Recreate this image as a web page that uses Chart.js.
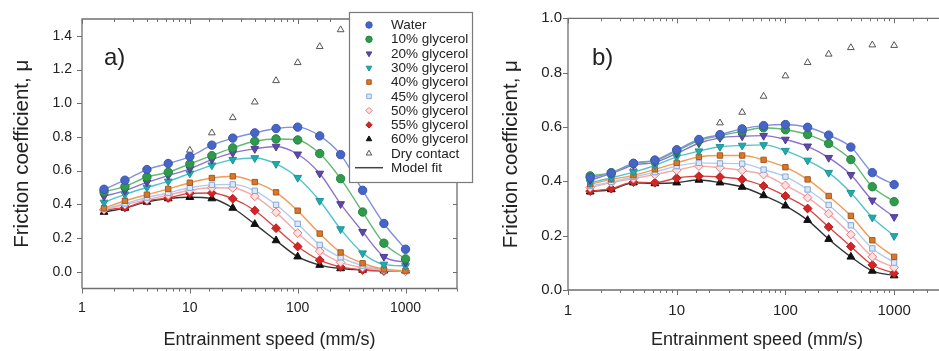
<!DOCTYPE html>
<html>
<head>
<meta charset="utf-8">
<script src="https://cdn.jsdelivr.net/npm/chart.js@4.4.0/dist/chart.umd.min.js"></script>
<style>
  html, body { margin: 0; padding: 0; background: #fff; overflow: hidden; width: 939px; height: 351px; }
  .panel { position: absolute; top: 0; }
  #panelA { left: 0; }
  #panelB { left: 480px; }
</style>
</head>
<body>
<div class="panel" id="panelA"><canvas id="chartA" width="480" height="351"></canvas></div>
<div class="panel" id="panelB"><canvas id="chartB" width="480" height="351"></canvas></div>
<script>
// Entrainment speeds (mm/s) shared by both panels
const speeds = [1.6, 2.5, 4, 6.3, 10, 16, 25, 40, 63, 100, 160, 250, 400, 630, 1000];

// Panel a) friction coefficients
const aWater = [0.489, 0.543, 0.606, 0.642, 0.683, 0.751, 0.793, 0.824, 0.850, 0.858, 0.806, 0.695, 0.483, 0.286, 0.133];
const aGly10 = [0.474, 0.506, 0.562, 0.590, 0.640, 0.689, 0.735, 0.774, 0.788, 0.782, 0.701, 0.552, 0.354, 0.169, 0.076];
const aGly20 = [0.447, 0.481, 0.530, 0.570, 0.610, 0.665, 0.705, 0.729, 0.743, 0.697, 0.583, 0.402, 0.237, 0.089, 0.054];
const aGly30 = [0.411, 0.459, 0.500, 0.536, 0.584, 0.632, 0.665, 0.675, 0.640, 0.558, 0.421, 0.253, 0.110, 0.043, 0.034];
const aGly40 = [0.377, 0.421, 0.457, 0.491, 0.528, 0.556, 0.566, 0.532, 0.471, 0.362, 0.226, 0.114, 0.050, 0.014, 0.006];
const aGly45 = [0.372, 0.405, 0.440, 0.468, 0.498, 0.515, 0.518, 0.480, 0.397, 0.284, 0.159, 0.085, 0.036, 0.012, 0.004];
const aGly50 = [0.368, 0.398, 0.428, 0.455, 0.483, 0.498, 0.497, 0.447, 0.352, 0.229, 0.122, 0.055, 0.025, 0.010, 0.003];
const aGly55 = [0.367, 0.381, 0.421, 0.437, 0.465, 0.467, 0.433, 0.363, 0.258, 0.149, 0.068, 0.028, 0.010, 0.004, 0.003];
const aGly60 = [0.354, 0.378, 0.414, 0.434, 0.442, 0.434, 0.378, 0.282, 0.185, 0.089, 0.039, 0.019, 0.010, 0.006, 0.005];
const aDry   = [null, null, null, 0.645, 0.721, 0.824, 0.914, 1.007, 1.134, 1.241, 1.336, 1.436, null, null, null];

// Panel b) friction coefficients
const bWater = [0.414, 0.430, 0.466, 0.478, 0.516, 0.554, 0.572, 0.593, 0.605, 0.609, 0.599, 0.570, 0.526, 0.432, 0.388];
const bGly10 = [0.420, 0.432, 0.466, 0.476, 0.512, 0.550, 0.568, 0.584, 0.597, 0.590, 0.572, 0.539, 0.480, 0.380, 0.325];
const bGly20 = [0.405, 0.428, 0.460, 0.470, 0.503, 0.540, 0.560, 0.566, 0.568, 0.554, 0.529, 0.487, 0.424, 0.330, 0.269];
const bGly30 = [0.395, 0.413, 0.434, 0.458, 0.490, 0.511, 0.527, 0.532, 0.534, 0.513, 0.477, 0.432, 0.358, 0.267, 0.199];
const bGly40 = [0.389, 0.407, 0.422, 0.444, 0.468, 0.490, 0.495, 0.495, 0.479, 0.452, 0.407, 0.346, 0.273, 0.183, 0.122];
const bGly45 = [0.383, 0.398, 0.416, 0.434, 0.456, 0.468, 0.466, 0.465, 0.443, 0.417, 0.370, 0.313, 0.238, 0.153, 0.101];
const bGly50 = [0.377, 0.395, 0.410, 0.425, 0.441, 0.456, 0.450, 0.440, 0.425, 0.385, 0.340, 0.281, 0.204, 0.122, 0.083];
const bGly55 = [0.364, 0.373, 0.397, 0.395, 0.412, 0.419, 0.416, 0.407, 0.383, 0.346, 0.300, 0.232, 0.160, 0.092, 0.062];
const bGly60 = [0.362, 0.370, 0.395, 0.392, 0.395, 0.405, 0.395, 0.379, 0.348, 0.310, 0.257, 0.187, 0.122, 0.070, 0.053];
const bDry   = [0.361, 0.372, 0.450, 0.480, 0.517, 0.554, 0.615, 0.654, 0.713, 0.788, 0.837, 0.868, 0.892, 0.902, 0.900];

// Axis tick labels
const xLabelled = [1, 10, 100, 1000];
const aYTicks = [0.0, 0.2, 0.4, 0.6, 0.8, 1.0, 1.2, 1.4];
const bYTicks = [0.0, 0.2, 0.4, 0.6, 0.8, 1.0];

const seriesNames = ['Water', '10% glycerol', '20% glycerol', '30% glycerol', '40% glycerol',
  '45% glycerol', '50% glycerol', '55% glycerol', '60% glycerol', 'Dry contact'];

// marker and fit-line styling per series
const styles = [
  { style: 'circle',   rot: 0,   fill: '#4665c6', edge: '#3a56b2', line: '#8092de', r: 4.2 },
  { style: 'circle',   rot: 0,   fill: '#2f9a4b', edge: '#25853e', line: '#63b872', r: 4.2 },
  { style: 'triangle', rot: 180, fill: '#5e48a8', edge: '#4f3b95', line: '#8c74cc', r: 4.5 },
  { style: 'triangle', rot: 180, fill: '#22a9ae', edge: '#1a9599', line: '#52c3cb', r: 4.5 },
  { style: 'rect',     rot: 0,   fill: '#d9782b', edge: '#a85a1c', line: '#f19b57', r: 3.8 },
  { style: 'rect',     rot: 0,   fill: '#dde9f8', edge: '#7fa8e0', line: '#b0caee', r: 3.8 },
  { style: 'rectRot',  rot: 0,   fill: '#fde2e2', edge: '#ec7b7b', line: '#f4aaaa', r: 4.4 },
  { style: 'rectRot',  rot: 0,   fill: '#d42525', edge: '#b81c1c', line: '#d84545', r: 4.4 },
  { style: 'triangle', rot: 0,   fill: '#111111', edge: '#111111', line: '#333333', r: 4.5 },
  { style: 'triangle', rot: 0,   fill: 'rgba(255,255,255,0)', edge: '#555555', line: '#555555', r: 3.9 }
];

const FONT = "'Liberation Sans', Arial, sans-serif";
const AXIS = '#6f6f6f';
const TEXT = '#222222';

function toPoints(values) {
  const pts = [];
  values.forEach((v, i) => { if (v !== null) pts.push({ x: speeds[i], y: v }); });
  return pts;
}

function buildDatasets(seriesList) {
  return seriesList.map((vals, i) => {
    const s = styles[i];
    const isDry = i === seriesList.length - 1;
    return {
      label: seriesNames[i],
      data: toPoints(vals),
      showLine: !isDry,
      borderColor: s.line,
      borderWidth: 1.4,
      cubicInterpolationMode: 'monotone',
      pointStyle: s.style,
      pointRotation: s.rot,
      pointRadius: s.r,
      pointBackgroundColor: s.fill,
      pointBorderColor: s.edge,
      pointBorderWidth: 1,
      fill: false
    };
  });
}

// Draws the full frame, outward ticks on bottom/left and inward mirrored ticks on top/right,
// plus the panel letter.
const framePlugin = {
  id: 'frame',
  afterDatasetsDraw(chart, args, opts) {
    const { ctx, chartArea: a, scales } = chart;
    ctx.save();
    ctx.strokeStyle = AXIS;
    ctx.lineWidth = 1.3;
    ctx.beginPath();
    ctx.moveTo(a.left, a.bottom); ctx.lineTo(a.left, a.top); ctx.lineTo(a.right, a.top);
    ctx.lineTo(a.right, a.bottom); ctx.lineTo(a.left, a.bottom);
    ctx.stroke();

    ctx.lineWidth = 1;
    ctx.beginPath();
    scales.x.ticks.forEach(t => {
      const px = Math.round(scales.x.getPixelForValue(t.value)) + 0.5;
      if (px < a.left - 0.5 || px > a.right + 0.5) return;
      const major = Math.abs(Math.log10(t.value) - Math.round(Math.log10(t.value))) < 1e-9;
      const len = major ? 5 : 3;
      ctx.moveTo(px, a.bottom); ctx.lineTo(px, a.bottom + len);
      ctx.moveTo(px, a.top); ctx.lineTo(px, a.top + len);
    });
    scales.y.ticks.forEach(t => {
      const py = Math.round(scales.y.getPixelForValue(t.value)) + 0.5;
      ctx.moveTo(a.left - 5, py); ctx.lineTo(a.left, py);
      ctx.moveTo(a.right, py); ctx.lineTo(a.right - 4, py);
    });
    ctx.stroke();

    ctx.fillStyle = TEXT;
    ctx.font = `${opts.letterSize}px ${FONT}`;
    ctx.textBaseline = 'alphabetic';
    ctx.textAlign = 'left';
    ctx.fillText(opts.letter, a.left + opts.letterDx, a.top + opts.letterDy);
    ctx.restore();
  }
};

// Boxed legend listing every series' marker plus the model-fit line
const legendPlugin = {
  id: 'boxLegend',
  afterDraw(chart, args, opts) {
    if (!opts.show) return;
    const ctx = chart.ctx;
    ctx.save();
    ctx.fillStyle = '#ffffff';
    ctx.fillRect(opts.x, opts.y, opts.w, opts.h);
    ctx.strokeStyle = '#7a7a7a';
    ctx.lineWidth = 1.2;
    ctx.strokeRect(opts.x + 0.5, opts.y + 0.5, opts.w, opts.h);

    ctx.font = `${opts.fontSize}px ${FONT}`;
    ctx.textBaseline = 'middle';
    ctx.textAlign = 'left';
    const ds = chart.data.datasets;
    ds.forEach((d, i) => {
      const cy = opts.y + opts.firstRow + i * opts.rowGap;
      ctx.fillStyle = d.pointBackgroundColor;
      ctx.strokeStyle = d.pointBorderColor;
      ctx.lineWidth = 1;
      Chart.helpers.drawPoint(ctx, {
        pointStyle: d.pointStyle, rotation: d.pointRotation, radius: 3.2, borderWidth: 1
      }, opts.x + opts.markerDx, cy);
      ctx.fillStyle = TEXT;
      ctx.fillText(d.label, opts.x + opts.textDx, cy + 0.5);
    });
    const fy = opts.y + opts.firstRow + ds.length * opts.rowGap;
    ctx.strokeStyle = '#444';
    ctx.lineWidth = 1.5;
    ctx.beginPath();
    ctx.moveTo(opts.x + 6, fy); ctx.lineTo(opts.x + 34, fy);
    ctx.stroke();
    ctx.fillStyle = TEXT;
    ctx.fillText('Model fit', opts.x + opts.textDx, fy + 0.5);
    ctx.restore();
  }
};

function makeChart(canvasId, seriesList, cfg) {
  return new Chart(document.getElementById(canvasId), {
    type: 'line',
    data: { datasets: buildDatasets(seriesList) },
    plugins: [framePlugin, legendPlugin],
    options: {
      responsive: false,
      animation: false,
      devicePixelRatio: 1,
      layout: { padding: { top: cfg.top, right: cfg.right, left: 0, bottom: 0 } },
      plugins: {
        legend: { display: false },
        tooltip: { enabled: false },
        frame: cfg.frame,
        boxLegend: cfg.legend
      },
      scales: {
        x: {
          type: 'logarithmic',
          min: 1, max: 3000,
          border: { display: false },
          grid: { display: true, drawOnChartArea: false, drawTicks: true, tickLength: 5, tickColor: 'rgba(0,0,0,0)' },
          ticks: {
            autoSkip: false, maxRotation: 0, padding: cfg.xPad,
            color: TEXT, font: { family: FONT, size: cfg.tickSize },
            callback: (v) => xLabelled.includes(v) ? String(v) : ''
          },
          title: { display: true, text: 'Entrainment speed (mm/s)', color: TEXT,
                   font: { family: FONT, size: 18 }, padding: { top: 0, bottom: 0 } },
          afterFit: (s) => { s.height = cfg.xHeight; }
        },
        y: {
          type: 'linear',
          min: cfg.yMin, max: cfg.yMax,
          border: { display: false },
          grid: { display: true, drawOnChartArea: false, drawTicks: true, tickLength: 5, tickColor: 'rgba(0,0,0,0)' },
          afterBuildTicks: (s) => { s.ticks = cfg.yTicks.map(v => ({ value: v })); },
          ticks: {
            padding: cfg.yPad, color: TEXT, font: { family: FONT, size: cfg.tickSize },
            callback: (v) => Number(v).toFixed(1)
          },
          title: { display: true, text: 'Friction coefficient, \u03bc', color: TEXT,
                   font: { family: FONT, size: 20.5 }, padding: { top: cfg.yTitlePad, bottom: 0 } },
          afterFit: (s) => { s.width = cfg.yWidth; }
        }
      }
    }
  });
}

makeChart('chartA',
  [aWater, aGly10, aGly20, aGly30, aGly40, aGly45, aGly50, aGly55, aGly60, aDry],
  {
    top: 19, right: 23, yWidth: 82, xHeight: 62.5, yMin: -0.1, yMax: 1.5, yTicks: aYTicks,
    tickSize: 14, xPad: 6, yPad: 5, yTitlePad: 10,
    frame: { letter: 'a)', letterSize: 24, letterDx: 22, letterDy: 46 },
    legend: { show: true, x: 349, y: 12, w: 123, h: 170, firstRow: 13, rowGap: 14.27,
              markerDx: 20, textDx: 42, fontSize: 13.5 }
  });

makeChart('chartB',
  [bWater, bGly10, bGly20, bGly30, bGly40, bGly45, bGly50, bGly55, bGly60, bDry],
  {
    top: 18.3, right: 14, yWidth: 88, xHeight: 61, yMin: 0, yMax: 1.0, yTicks: bYTicks,
    tickSize: 15, xPad: 7, yPad: 1, yTitlePad: 19,
    frame: { letter: 'b)', letterSize: 24, letterDx: 24, letterDy: 47 },
    legend: { show: false }
  });
</script>
</body>
</html>
